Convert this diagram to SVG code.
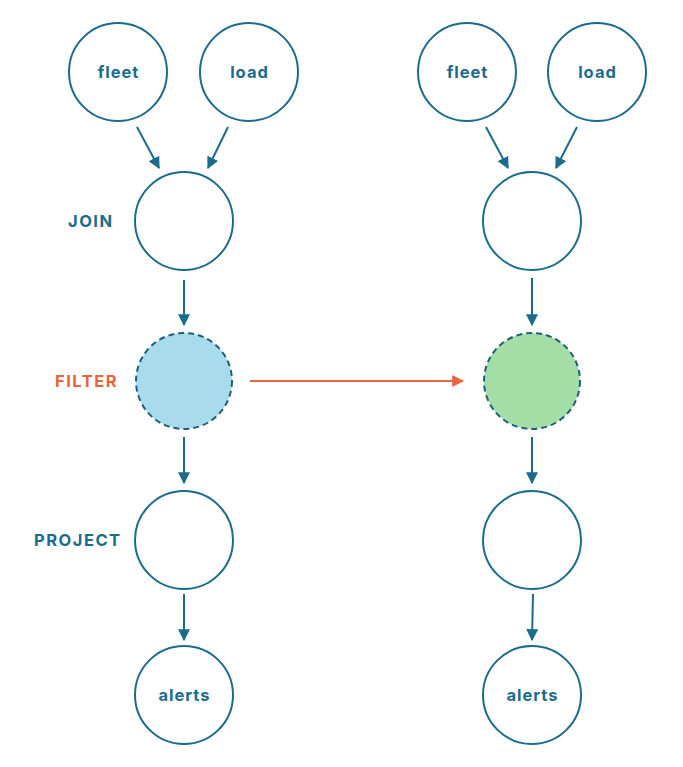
<svg xmlns="http://www.w3.org/2000/svg" width="683" height="767" viewBox="0 0 683 767">
<style>
.n{fill:#fff;stroke:#1b6b8c;stroke-width:2}
.d{stroke:#1b5f7a;stroke-width:2;stroke-dasharray:6 4}
.t{font-family:"Inter","Open Sans",sans-serif;font-weight:700;font-size:16.5px;letter-spacing:1px;fill:#1b6b8c;text-anchor:middle;dominant-baseline:central}
.l{font-family:"Inter","Open Sans",sans-serif;font-weight:700;font-size:16.5px;letter-spacing:1.5px;fill:#1b6b8c;dominant-baseline:central}
.e{stroke:#1b6b8c;stroke-width:2;fill:none;marker-end:url(#a)}
</style>
<defs>
<marker id="a" viewBox="0 0 10 10" refX="9" refY="5" markerWidth="6" markerHeight="6" orient="auto" markerUnits="strokeWidth"><path d="M0,0L10,5L0,10z" fill="#1b6b8c"/></marker>
<marker id="r" viewBox="0 0 10 10" refX="9" refY="5" markerWidth="6" markerHeight="6" orient="auto" markerUnits="strokeWidth"><path d="M0,0L10,5L0,10z" fill="#e8643c"/></marker>
</defs>
<rect width="683" height="767" fill="#fff"/>
<g id="connectors">
<line class="e" x1="137" y1="127" x2="159" y2="168"/>
<line class="e" x1="228" y1="127" x2="208" y2="168"/>
<line class="e" x1="184" y1="280" x2="184" y2="325"/>
<line class="e" x1="184" y1="437" x2="184" y2="483"/>
<line class="e" x1="184" y1="594" x2="184" y2="640"/>
<line class="e" x1="486" y1="127" x2="508" y2="168"/>
<line class="e" x1="577" y1="127" x2="556" y2="168"/>
<line class="e" x1="532" y1="278" x2="532" y2="325"/>
<line class="e" x1="532" y1="437" x2="532" y2="483"/>
<line class="e" x1="533" y1="594" x2="532" y2="640"/>
<line x1="250" y1="381" x2="463" y2="381" stroke="#e8643c" stroke-width="2" marker-end="url(#r)"/>
</g>
<g id="l-fleet"><circle class="n" cx="118" cy="72" r="49"/><text class="t" x="118.5" y="72">fleet</text></g>
<g id="l-load"><circle class="n" cx="249" cy="72" r="49"/><text class="t" x="249.5" y="72">load</text></g>
<g id="l-join"><circle class="n" cx="184" cy="221" r="49"/><text class="l" x="68" y="221">JOIN</text></g>
<g id="l-filter"><circle class="n d" cx="184" cy="381" r="48" style="fill:#a8dcec"/><text class="l" x="55" y="381" style="fill:#e8643c">FILTER</text></g>
<g id="l-project"><circle class="n" cx="184" cy="540" r="49"/><text class="l" x="34" y="540">PROJECT</text></g>
<g id="l-alerts"><circle class="n" cx="184" cy="695" r="49"/><text class="t" x="184.5" y="695">alerts</text></g>
<g id="r-fleet"><circle class="n" cx="467" cy="72" r="49"/><text class="t" x="467.5" y="72">fleet</text></g>
<g id="r-load"><circle class="n" cx="597" cy="72" r="49"/><text class="t" x="597.5" y="72">load</text></g>
<g id="r-join"><circle class="n" cx="532" cy="221" r="49"/></g>
<g id="r-filter"><circle class="n d" cx="532" cy="381" r="48" style="fill:#a2dea5"/></g>
<g id="r-project"><circle class="n" cx="532" cy="540" r="49"/></g>
<g id="r-alerts"><circle class="n" cx="532" cy="695" r="49"/><text class="t" x="532.5" y="695">alerts</text></g>
</svg>
